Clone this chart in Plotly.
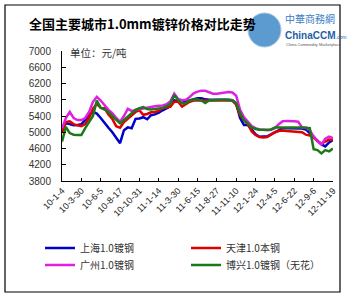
import plotly.graph_objects as go

tick_labels = ["10-1-4", "10-3-30", "10-6-5", "10-8-17", "10-10-31", "11-1-14", "11-3-30",
               "11-6-15", "11-8-27", "11-11-10", "12-1-24", "12-4-5", "12-6-22", "12-9-6", "12-11-19"]

shanghai = [5050, 5220, 5200, 5170, 5180, 5200, 5300, 5420, 5500, 5460,
            5350, 5220, 5110, 5000, 4850, 4730, 5050, 5120, 5100, 5330,
            5340, 5370, 5320, 5420, 5440, 5480, 5540, 5600, 5640, 5790,
            5760, 5720, 5760, 5790, 5820, 5840, 5840, 5810, 5800, 5800,
            5800, 5810, 5800, 5800, 5790, 5700, 5350, 5180, 5180, 5050,
            4950, 4890, 4890, 4900, 4950, 5000, 5060, 5100, 5100, 5100,
            5100, 5100, 5090, 5070, 4980, 4880, 4800, 4700, 4650, 4750, 4810]

tianjin = [4980, 5250, 5270, 5200, 5170, 5150, 5200, 5350, 5580, 5700,
           5600, 5590, 5440, 5330, 5150, 5110, 5250, 5330, 5400, 5500,
           5540, 5430, 5450, 5490, 5500, 5530, 5590, 5610, 5630, 5750,
           5750, 5630, 5700, 5750, 5780, 5780, 5780, 5770, 5780, 5790,
           5790, 5790, 5790, 5790, 5780, 5680, 5420, 5300, 5200, 5020,
           4930, 4880, 4870, 4880, 4950, 5000, 5030, 5040, 5030, 5020,
           5020, 5010, 5000, 4940, 4920, 4870, 4780, 4720, 4760, 4820, 4810]

guangzhou = [5100, 5350, 5500, 5350, 5300, 5300, 5350, 5500, 5750, 5870,
             5780, 5650, 5550, 5470, 5350, 5260, 5400, 5580, 5520, 5550,
             5570, 5590, 5600, 5620, 5640, 5650, 5660, 5690, 5760, 5950,
             5820, 5790, 5800, 5870, 5960, 6000, 6020, 6020, 5980, 5950,
             5950, 5960, 5980, 5990, 5980, 5900, 5550, 5370, 5260, 5150,
             5100, 5070, 5060, 5050, 5060, 5100, 5200, 5270, 5280, 5280,
             5270, 5260, 5120, 5110, 5050, 4900, 4780, 4700, 4840, 4890, 4860]

boxing = [4770, 5130, 4980, 4940, 4930, 4930, 5100, 5250, 5400, 5780,
          5600, 5560, 5500, 5400, 5320, 5220, 5300, 5380, 5450, 5550,
          5590, 5620, 5570, 5560, 5570, 5590, 5600, 5640, 5700, 5920,
          5790, 5710, 5720, 5790, 5800, 5810, 5780, 5720, 5780, 5790,
          5790, 5800, 5800, 5800, 5790, 5720, 5470, 5300, 5200, 5120,
          5080, 5060, 5060, 5060, 5070, 5120, 5120, 5130, 5130, 5130,
          5120, 5120, 5120, 5110, 5100, 4580, 4560, 4480, 4560, 4530, 4600]

names = ["上海1.0镀钢", "天津1.0本钢", "广州1.0镀钢", "博兴1.0镀钢（无花）"]
colors = ["#0000cc", "#e00000", "#e020e0", "#1a7a1a"]
legend_ids = ["legend", "legend2", "legend3", "legend4"]

x = list(range(len(shanghai)))
tickvals = list(range(0, 71, 5))

FONT = "Liberation Sans, Arial, Noto Sans CJK SC"
fig = go.Figure()
for name, data, c, lg in zip(names, [shanghai, tianjin, guangzhou, boxing], colors, legend_ids):
    fig.add_trace(go.Scatter(x=x, y=data, mode="lines", name=name, legend=lg,
                             line=dict(color=c, width=2.5)))

L, R, T, B = 62, 16, 51, 118
W, H = 349, 299
pw, ph = W - L - R, H - T - B

def px(xp):
    return (xp - L) / pw

def py(yp):
    return (H - B - yp) / ph

def leg(xp, yp):
    return dict(x=px(xp), y=py(yp), orientation="v", yanchor="middle", xanchor="left",
                itemwidth=30, bgcolor="rgba(0,0,0,0)", borderwidth=0,
                font=dict(size=10, color="#333333", family="Noto Sans CJK SC"))

fig.update_layout(
    width=W, height=H,
    margin=dict(l=L, r=R, t=T, b=B, pad=0, autoexpand=False),
    paper_bgcolor="white", plot_bgcolor="white",
    font=dict(family=FONT, size=10, color="#222222"),
    showlegend=True,
    legend=leg(40, 248),
    legend2=leg(186, 248),
    legend3=leg(40, 265),
    legend4=leg(186, 265),
    xaxis=dict(range=[0, 70], tickmode="array", tickvals=tickvals, ticktext=tick_labels,
               tickangle=-45, ticks="inside", ticklen=3, tickcolor="black", automargin=False,
               showline=True, linecolor="black", linewidth=1, showgrid=False, zeroline=False,
               tickfont=dict(size=9, color="#222222")),
    yaxis=dict(range=[3800, 7000], tick0=3800, dtick=400, ticks="inside", ticklen=4,
               tickcolor="black", automargin=False,
               showline=True, linecolor="black", linewidth=1, showgrid=False, zeroline=False,
               tickfont=dict(size=10, color="#333333"), ticklabelstandoff=8),
)

# outer border
fig.add_shape(type="rect", xref="paper", yref="paper",
              x0=px(5), x1=px(340), y0=py(292), y1=py(5),
              line=dict(color="black", width=1.2), fillcolor="rgba(0,0,0,0)", layer="below")

# title
fig.add_annotation(xref="paper", yref="paper", x=px(27), y=py(23), xanchor="left", yanchor="middle",
                   text="<b>全国主要城市1.0mm镀锌价格对比走势</b>", showarrow=False,
                   font=dict(size=13, color="black", family="Noto Sans CJK SC"))
# unit
fig.add_annotation(xref="paper", yref="paper", x=px(68), y=py(52), xanchor="left", yanchor="middle",
                   text="单位：元/吨", showarrow=False,
                   font=dict(size=10.5, color="#333333", family="Noto Sans CJK SC"))

# logo
fig.add_shape(type="circle", xref="paper", yref="paper",
              x0=px(248), x1=px(281), y0=py(47), y1=py(13),
              line=dict(color="#a8c8e4", width=1), fillcolor="#5b9bd0")
fig.add_annotation(xref="paper", yref="paper", x=px(283), y=py(18), xanchor="left", yanchor="middle",
                   text="中華商務網", showarrow=False,
                   font=dict(size=10, color="#3a7cc8", family="Noto Sans CJK SC"))
fig.add_annotation(xref="paper", yref="paper", x=px(283), y=py(35), xanchor="left", yanchor="middle",
                   text="<b>ChinaCCM</b><span style='font-size:5px'>.com</span>", showarrow=False,
                   font=dict(size=10, color="#1f5fa8", family="Liberation Sans Narrow, Liberation Sans"))
fig.add_annotation(xref="paper", yref="paper", x=px(284), y=py(44), xanchor="left", yanchor="middle",
                   text="China Commodity Marketplace", showarrow=False,
                   font=dict(size=4, color="#555555", family="Liberation Sans"))

fig.write_html("out.html")
